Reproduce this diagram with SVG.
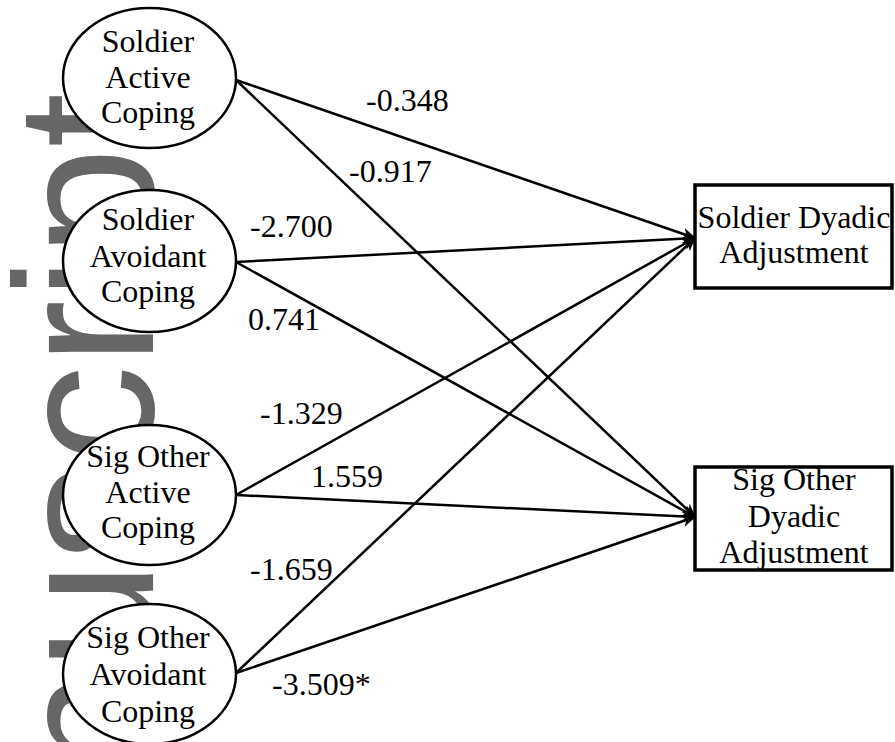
<svg xmlns="http://www.w3.org/2000/svg" width="895" height="742" viewBox="0 0 895 742">
<defs>
<style>
.wm{font-family:"Liberation Sans",Arial,sans-serif;font-size:196px;fill:#666666;}
.node ellipse{fill:#ffffff;stroke:#000000;stroke-width:2.5;}
.node rect{fill:#ffffff;stroke:#000000;stroke-width:3.5;}
.t{font-family:"Liberation Serif","Times New Roman",serif;font-size:32px;fill:#000000;}
.c{text-anchor:middle;}
.edge{stroke:#000000;stroke-width:2.5;fill:none;marker-end:url(#arrow);}
</style>
<marker id="arrow" markerUnits="userSpaceOnUse" markerWidth="14" markerHeight="12" refX="13" refY="6" orient="auto">
<path d="M0,0 L14,6 L0,12 L4,6 Z" fill="#000000"/>
</marker>
</defs>
<rect width="895" height="742" fill="#ffffff"/>
<text class="wm" transform="translate(153 93) rotate(-90)" text-anchor="end">Manuscript</text>
<g id="connectors">
<line class="edge" x1="236" y1="80" x2="695" y2="238"/>
<line class="edge" x1="236" y1="80" x2="695" y2="517"/>
<line class="edge" x1="236" y1="262" x2="695" y2="238"/>
<line class="edge" x1="236" y1="262" x2="695" y2="517"/>
<line class="edge" x1="236" y1="495" x2="695" y2="238"/>
<line class="edge" x1="236" y1="495" x2="695" y2="517"/>
<line class="edge" x1="236" y1="673" x2="695" y2="238"/>
<line class="edge" x1="236" y1="673" x2="695" y2="517"/>
</g>
<g id="edge-labels" class="t">
<text x="366" y="111">-0.348</text>
<text x="349" y="182">-0.917</text>
<text x="250" y="237">-2.700</text>
<text x="248" y="330">0.741</text>
<text x="260" y="424">-1.329</text>
<text x="311" y="487">1.559</text>
<text x="250" y="580">-1.659</text>
<text x="272" y="695">-3.509*</text>
</g>
<g id="soldier-active" class="node">
<ellipse cx="149.5" cy="78" rx="86.5" ry="70"/>
<text class="t c" x="148" y="52">Soldier</text>
<text class="t c" x="148" y="88">Active</text>
<text class="t c" x="148" y="123">Coping</text>
</g>
<g id="soldier-avoidant" class="node">
<ellipse cx="149.5" cy="261" rx="86.5" ry="71"/>
<text class="t c" x="148" y="230">Soldier</text>
<text class="t c" x="148" y="267">Avoidant</text>
<text class="t c" x="148" y="302">Coping</text>
</g>
<g id="sigother-active" class="node">
<ellipse cx="149.5" cy="495" rx="86.5" ry="70"/>
<text class="t c" x="148" y="467">Sig Other</text>
<text class="t c" x="148" y="503">Active</text>
<text class="t c" x="148" y="538">Coping</text>
</g>
<g id="sigother-avoidant" class="node">
<ellipse cx="149.5" cy="674" rx="86.5" ry="70"/>
<text class="t c" x="148" y="648">Sig Other</text>
<text class="t c" x="148" y="685">Avoidant</text>
<text class="t c" x="148" y="722">Coping</text>
</g>
<g id="soldier-dyadic" class="node">
<rect x="695" y="185" width="197" height="103"/>
<text class="t c" x="794" y="228">Soldier Dyadic</text>
<text class="t c" x="794" y="263">Adjustment</text>
</g>
<g id="sigother-dyadic" class="node">
<rect x="695" y="467" width="197" height="103"/>
<text class="t c" x="794" y="490">Sig Other</text>
<text class="t c" x="794" y="527">Dyadic</text>
<text class="t c" x="794" y="563">Adjustment</text>
</g>
</svg>
